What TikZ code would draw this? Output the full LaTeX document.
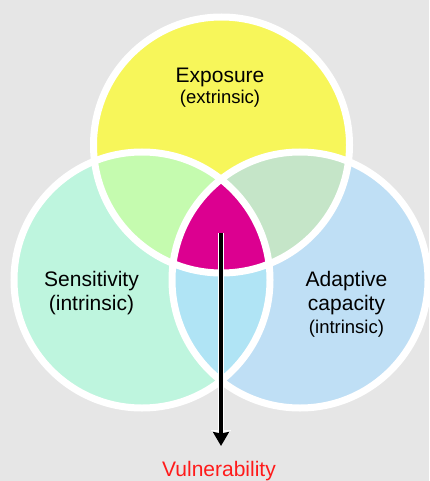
\documentclass[tikz,border=0pt]{standalone}
\usepackage{fontspec}
\setmainfont{Liberation Sans}
\usetikzlibrary{arrows.meta}
\definecolor{bgc}{HTML}{E6E6E6}
\definecolor{cyel}{HTML}{F7F65A}
\definecolor{cmint}{HTML}{BEF5DE}
\definecolor{cblue}{HTML}{BFDFF5}
\definecolor{ctl}{HTML}{C5FBAF}
\definecolor{ctr}{HTML}{C5E5C8}
\definecolor{cbot}{HTML}{B0E4F5}
\definecolor{cmid}{HTML}{DC0090}
\definecolor{cred}{HTML}{FF1A1A}
\tikzset{
  ring/.style={draw=white, line width=7pt},
  bigtxt/.style={anchor=base, inner sep=0pt, font=\fontsize{21}{24}\selectfont},
  smalltxt/.style={anchor=base, inner sep=0pt, font=\fontsize{18.5}{22}\selectfont},
}
\begin{document}
\begin{tikzpicture}[x=1pt,y=-1pt]
\useasboundingbox (0,0) rectangle (429,481);
\fill[bgc] (0,0) rectangle (429,481);
\coordinate (T) at (221.5,145);
\coordinate (L) at (142,280);
\coordinate (R) at (300,280);
\def\rr{128pt}
% single circles
\fill[cmint] (L) circle[radius=\rr];
\fill[cblue] (R) circle[radius=\rr];
\fill[cyel] (T) circle[radius=\rr];
% pairwise overlaps
\begin{scope}
  \clip (L) circle[radius=\rr];
  \fill[cbot] (R) circle[radius=\rr];
\end{scope}
\begin{scope}
  \clip (T) circle[radius=\rr];
  \fill[ctl] (L) circle[radius=\rr];
  \fill[ctr] (R) circle[radius=\rr];
\end{scope}
% triple overlap
\begin{scope}
  \clip (T) circle[radius=\rr];
  \clip (L) circle[radius=\rr];
  \fill[cmid] (R) circle[radius=\rr];
\end{scope}
% white rings
\draw[ring] (L) circle[radius=\rr];
\draw[ring] (R) circle[radius=\rr];
\draw[ring] (T) circle[radius=\rr];
% labels
\node[bigtxt] (expo) at (220,83) {Exposure};
\node[smalltxt] (extr) at (220,104) {(extrinsic)};
\node[bigtxt] (sens) at (91.5,286.5) {Sensitivity};
\node[bigtxt] (sint) at (91.5,310.5) {(intrinsic)};
\node[bigtxt] (adap) at (346.5,286) {Adaptive};
\node[bigtxt] (capa) at (346.5,310) {capacity};
\node[smalltxt] (aint) at (346.5,333) {(intrinsic)};
\node[bigtxt, text=cred] (vuln) at (219,476.3) {Vulnerability};
% arrow
\coordinate (astart) at (221,233);
\coordinate (aend) at (221,446);
\draw[white, line width=6.5pt, -{Triangle[width=19pt,length=16pt]}] (astart) -- (aend);
\draw[black, line width=4.5pt, -{Triangle[width=16pt,length=14pt,inset=1.5pt]}] (astart) -- (aend);
\end{tikzpicture}
\end{document}
